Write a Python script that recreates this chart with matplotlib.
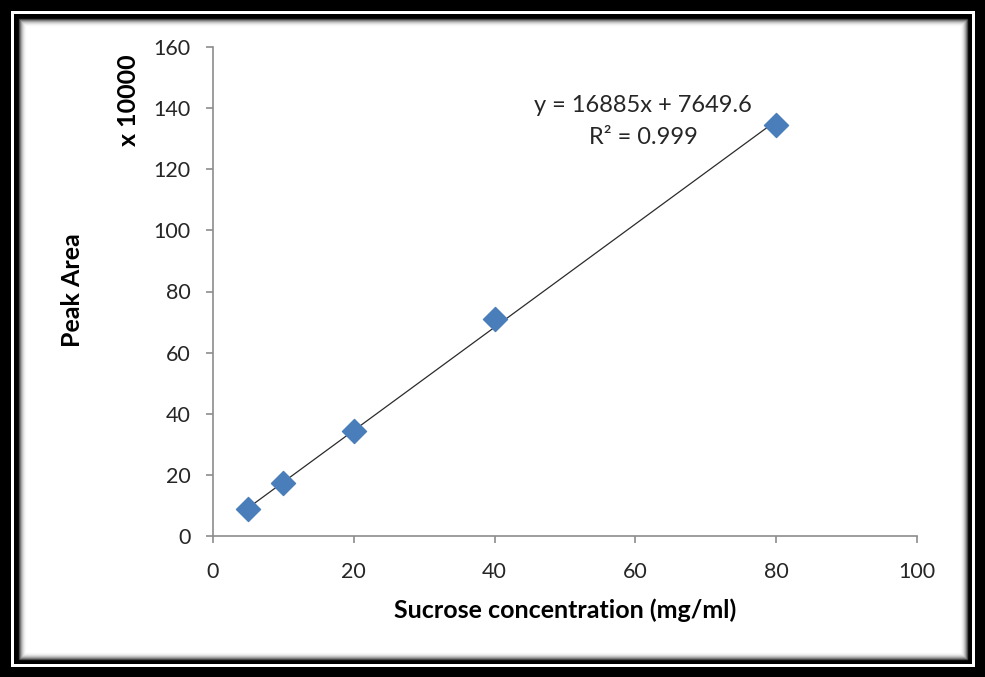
import matplotlib
matplotlib.use("Agg")
import matplotlib.pyplot as plt
from matplotlib.patches import Rectangle
import numpy as np

# Calibration data: sucrose concentration vs HPLC peak area (x 10000)
concentration = [5, 10, 20, 40, 80]
peak_area = [8.8, 17.4, 34.4, 71.0, 134.6]
slope = 16885
intercept = 7649.6
r_squared = 0.999
scale = 10000

x_ticks = [0, 20, 40, 60, 80, 100]
y_ticks = [0, 20, 40, 60, 80, 100, 120, 140, 160]

W, H = 985, 677
fig = plt.figure(figsize=(W / 100, H / 100), dpi=100)
fig.patch.set_facecolor("black")


def frac_rect(x0, y0, x1, y1, **kw):
    """Rectangle given in pixel coords (origin top-left)."""
    return Rectangle((x0 / W, 1 - y1 / H), (x1 - x0) / W, (y1 - y0) / H,
                     transform=fig.transFigure, **kw)


# double border: thin white line between black bands
fig.add_artist(frac_rect(11, 11, 975, 667, facecolor="white", edgecolor="none", zorder=0))
fig.add_artist(frac_rect(14, 14, 972, 664, facecolor="black", edgecolor="none", zorder=0))
# inner panel with soft inner shadow
fig.add_artist(frac_rect(19, 19, 967, 659, facecolor="white", edgecolor="none", zorder=0))
shades = [0.25, 0.45, 0.62, 0.75, 0.85, 0.92, 0.97]
for i, g in enumerate(shades):
    fig.add_artist(frac_rect(19 + i, 19 + i, 967 - i, 659 - i, facecolor="none",
                             edgecolor=(g, g, g), linewidth=1.0, zorder=0.5))

ax = fig.add_axes([213 / W, 1 - 536 / H, (917 - 213) / W, (536 - 47) / H])
ax.set_facecolor("none")

x_fit = np.array([min(concentration), max(concentration)])
y_fit = (slope * x_fit + intercept) / scale
ax.plot(x_fit, y_fit, color="#2b2b2b", linewidth=0.9, zorder=2)
ax.scatter(concentration, peak_area, marker="D", s=150, color="#4a7ebb",
           edgecolor="#4a7ebb", zorder=3)

ax.set_xlim(0, 100)
ax.set_ylim(0, 160)
ax.set_xticks(x_ticks)
ax.set_yticks(y_ticks)

font = "Lato"
for s in ["top", "right"]:
    ax.spines[s].set_visible(False)
for s in ["left", "bottom"]:
    ax.spines[s].set_color("#8c8c8c")
    ax.spines[s].set_linewidth(1.2)
ax.tick_params(axis="both", direction="out", length=5, width=1.2, color="#8c8c8c",
               labelsize=15.5, labelcolor="#262626")
ax.tick_params(axis="x", pad=14)
ax.tick_params(axis="y", pad=11)
for lab in ax.get_xticklabels() + ax.get_yticklabels():
    lab.set_family(font)

label_kw = dict(fontsize=18, fontweight="bold", family=font, color="black",
                ha="center", va="center")
fig.text(565 / W, 1 - 610 / H, "Sucrose concentration (mg/ml)", **label_kw)
fig.text(72 / W, 1 - 290 / H, "Peak Area", rotation=90, **label_kw)
fig.text(128 / W, 1 - 100 / H, "x 10000", rotation=90, **label_kw)

fig.text(643 / W, 1 - 106 / H, f"y = {slope}x + {intercept}", ha="center", va="center",
         fontsize=17, family=font, color="#262626")
fig.text(643 / W, 1 - 137 / H, f"R² = {r_squared}", ha="center", va="center",
         fontsize=17, family=font, color="#262626")

fig.savefig("out.png", dpi=100, facecolor=fig.get_facecolor())
